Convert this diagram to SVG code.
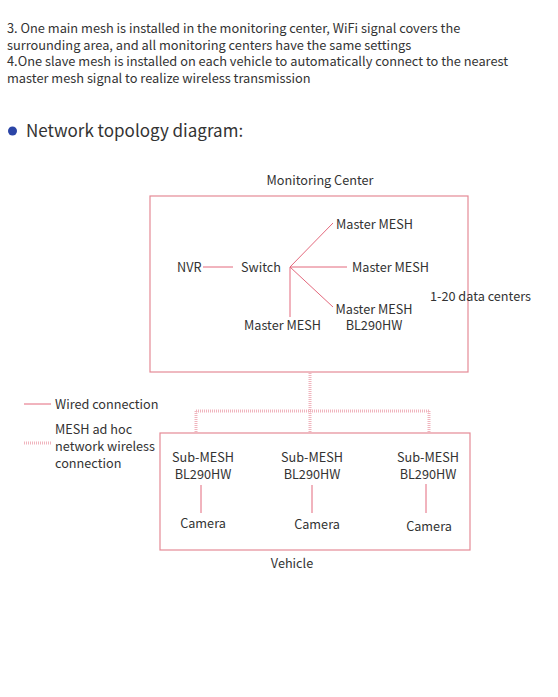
<svg xmlns="http://www.w3.org/2000/svg" width="558" height="697" viewBox="0 0 558 697">
<style>
text{font-family:"Noto Sans CJK SC","Noto Sans",sans-serif;fill:#333;}
.p{font-size:12.8px;}
.d{font-size:12.7px;}
.c{text-anchor:middle;}
.box{fill:none;stroke:#e58a96;stroke-width:1.2;}
.w{stroke:#e3687c;stroke-width:1;fill:none;}
.m{stroke:#f0b4bd;stroke-width:3;stroke-dasharray:1 1;fill:none;}
</style>
<rect width="558" height="697" fill="#fff"/>
<g id="intro">
<text class="p" x="7" y="33">3. One main mesh is installed in the monitoring center, WiFi signal covers the</text>
<text class="p" x="7" y="50">surrounding area, and all monitoring centers have the same settings</text>
<text class="p" x="7" y="66">4.One slave mesh is installed on each vehicle to automatically connect to the nearest</text>
<text class="p" x="7" y="83">master mesh signal to realize wireless transmission</text>
</g>
<g id="heading">
<circle cx="12.5" cy="131" r="4.5" fill="#2b45a6"/>
<text x="26" y="137" style="font-size:17px">Network topology diagram:</text>
</g>
<g id="connectors">
<line class="w" x1="203" y1="267" x2="233" y2="267"/>
<line class="w" x1="290" y1="267" x2="333" y2="223"/>
<line class="w" x1="290" y1="267" x2="347" y2="267"/>
<line class="w" x1="290" y1="267" x2="333" y2="307"/>
<line class="w" x1="290" y1="267" x2="290" y2="317"/>
<path class="m" d="M310 373V411M196 411H429M196 411V433M310 411V433M429 411V433"/>
<line class="w" x1="201" y1="485" x2="201" y2="513"/>
<line class="w" x1="312" y1="485" x2="312" y2="513"/>
<line class="w" x1="426" y1="484" x2="426" y2="513"/>
<line class="w" x1="24" y1="404" x2="51" y2="404"/>
<line class="m" x1="24" y1="443" x2="51" y2="443"/>
</g>
<g id="monitoring-center">
<rect class="box" x="150" y="196" width="318" height="176"/>
<text class="d c" x="320" y="185">Monitoring Center</text>
</g>
<g id="nvr"><text class="d" x="177" y="272">NVR</text></g>
<g id="switch"><text class="d" x="241" y="272">Switch</text></g>
<g id="master1"><text class="d" x="336" y="229">Master MESH</text></g>
<g id="master2"><text class="d" x="352" y="272">Master MESH</text></g>
<g id="master3"><text class="d c" x="374" y="314">Master MESH</text><text class="d c" x="374" y="330">BL290HW</text></g>
<g id="master4"><text class="d" x="244" y="330">Master MESH</text></g>
<g id="data-centers"><text class="d" x="430" y="301">1-20 data centers</text></g>
<g id="vehicle">
<rect class="box" x="160" y="433" width="310" height="117"/>
<text class="d c" x="292" y="568">Vehicle</text>
</g>
<g id="sub1"><text class="d c" x="203" y="462">Sub-MESH</text><text class="d c" x="203" y="479">BL290HW</text></g>
<g id="sub2"><text class="d c" x="312" y="462">Sub-MESH</text><text class="d c" x="312" y="479">BL290HW</text></g>
<g id="sub3"><text class="d c" x="428" y="462">Sub-MESH</text><text class="d c" x="428" y="479">BL290HW</text></g>
<g id="cam1"><text class="d c" x="203" y="528">Camera</text></g>
<g id="cam2"><text class="d c" x="317" y="529">Camera</text></g>
<g id="cam3"><text class="d c" x="429" y="531">Camera</text></g>
<g id="legend">
<text class="d" x="55" y="409">Wired connection</text>
<text class="d" x="55" y="434">MESH ad hoc</text>
<text class="d" x="55" y="451">network wireless</text>
<text class="d" x="55" y="468">connection</text>
</g>
</svg>
